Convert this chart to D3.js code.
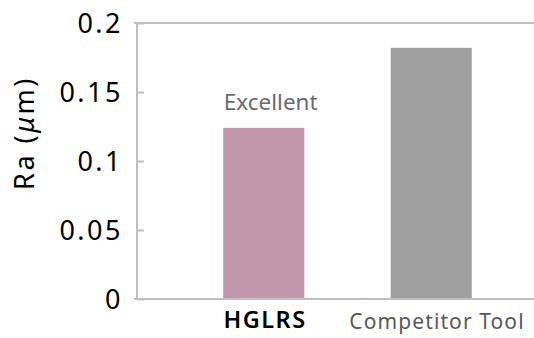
<!DOCTYPE html>
<html><head><meta charset="utf-8">
<script src="https://cdn.jsdelivr.net/npm/d3@7"></script>
<style>body{margin:0;background:#fff}svg{display:block}</style>
</head><body>
<script>
const categories = ["HGLRS", "Competitor Tool"];
const values = [0.124, 0.182];
const barLabels = ["Excellent", ""];
const yTicks = [0, 0.05, 0.1, 0.15, 0.2];
const yTickLabels = ["0", "0.05", "0.1", "0.15", "0.2"];

const W = 534, H = 338;
const svg = d3.select("body").append("svg").attr("width", W).attr("height", H);
const font = "'Noto Sans', 'Open Sans', sans-serif";

const y = d3.scaleLinear().domain([0, 0.2]).range([299, 23]);
const x = d3.scaleBand().domain(categories).range([180, 515]).padding(0);
const colors = ["#c297ab", "#a0a0a0"];
const barW = x.bandwidth() * 0.484;

const axisColor = "#bfbfbf";
svg.append("line").attr("x1", 134).attr("x2", W).attr("y1", y(0.2)).attr("y2", y(0.2))
  .attr("stroke", axisColor).attr("stroke-width", 2);

const yAxis = d3.axisRight(y).tickValues(yTicks).tickSize(7).tickFormat("");
const gy = svg.append("g").attr("transform", "translate(137,0)").call(yAxis);
gy.select(".domain").remove();
gy.selectAll(".tick line").attr("stroke", axisColor).attr("stroke-width", 2);
svg.append("line").attr("x1", 137).attr("x2", 137).attr("y1", y(0.2)).attr("y2", y(0))
  .attr("stroke", axisColor).attr("stroke-width", 2);

// tick labels
svg.selectAll(".ylab").data(yTicks).enter().append("text")
  .attr("x", 123).attr("y", d => y(d)).attr("dy", "0.36em")
  .attr("text-anchor", "end").attr("font-family", font).attr("font-size", 27)
  .attr("letter-spacing", 2.5)
  .attr("fill", "#000").text((d, i) => yTickLabels[i]);

// bars
svg.selectAll(".bar").data(categories).enter().append("rect")
  .attr("x", d => x(d) + (x.bandwidth() - barW) / 2)
  .attr("y", (d, i) => y(values[i]))
  .attr("width", barW)
  .attr("height", (d, i) => y(0) - y(values[i]))
  .attr("fill", (d, i) => colors[i]);

svg.append("line").attr("x1", 134).attr("x2", W).attr("y1", y(0)).attr("y2", y(0))
  .attr("stroke", axisColor).attr("stroke-width", 2);

// bar labels
svg.selectAll(".blab").data(categories).enter().append("text")
  .attr("x", d => x(d) + x.bandwidth() / 2 + 7)
  .attr("y", (d, i) => y(values[i]) - 18)
  .attr("text-anchor", "middle").attr("font-family", font).attr("font-size", 22.5)
  .attr("fill", "#6b6b6b").text((d, i) => barLabels[i]);

// category labels
svg.append("text").attr("x", 265).attr("y", 328)
  .attr("text-anchor", "middle").attr("font-family", font).attr("font-size", 23.5)
  .attr("font-weight", 600).attr("letter-spacing", 1.5).attr("fill", "#000").text(categories[0]);
svg.append("text").attr("x", 437).attr("y", 329)
  .attr("text-anchor", "middle").attr("font-family", font).attr("font-size", 21)
  .attr("letter-spacing", 1.1).attr("fill", "#595959").text(categories[1]);

// y title
const yt = svg.append("text").attr("transform", "translate(34,133) rotate(-90)")
  .attr("text-anchor", "middle").attr("font-family", font).attr("font-size", 27)
  .attr("letter-spacing", 2.5).attr("fill", "#000");
yt.append("tspan").text("Ra (");
yt.append("tspan").attr("font-style", "italic").text("μ");
yt.append("tspan").text("m)");
</script>
</body></html>
